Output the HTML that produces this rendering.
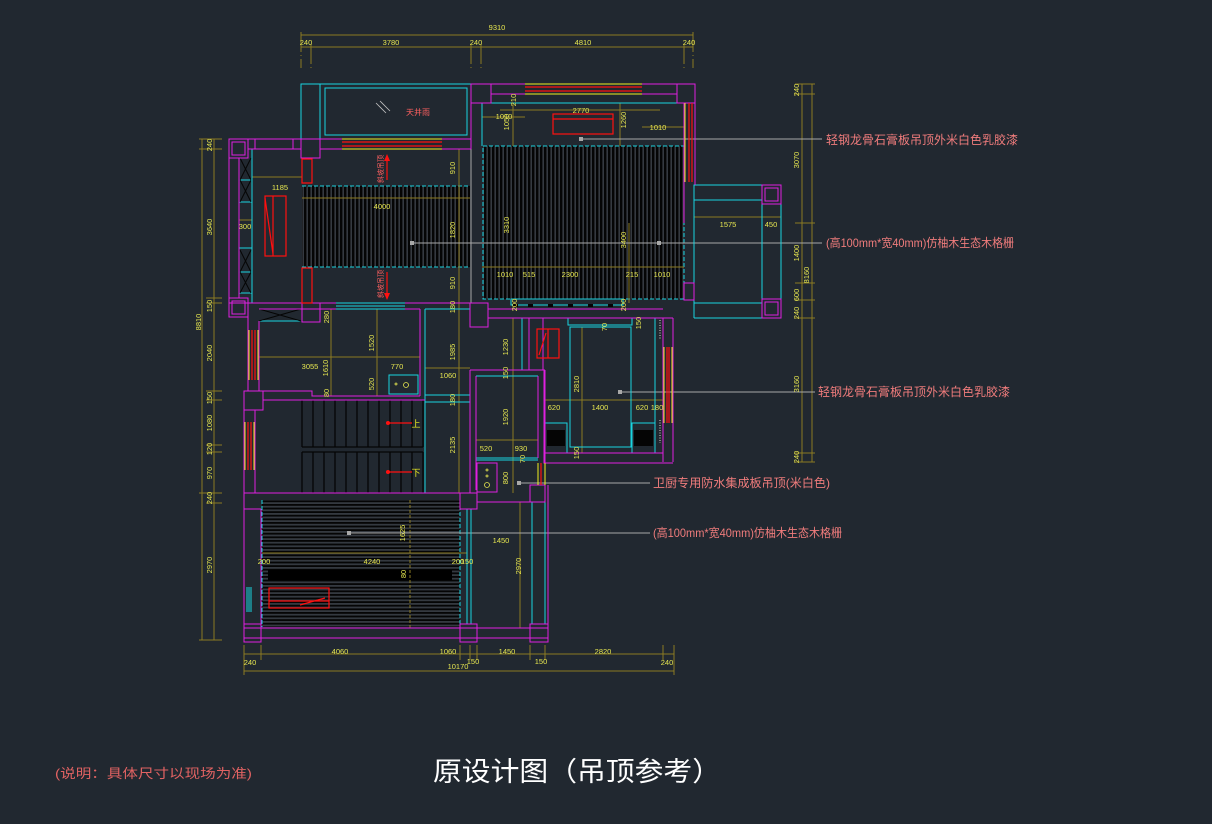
<!DOCTYPE html>
<html><head><meta charset="utf-8"><style>
html,body{margin:0;padding:0;background:#212830;}
svg{display:block;}
.d{font-family:"Liberation Sans",sans-serif;font-size:7.5px;fill:#e6e650;text-anchor:middle;}
.l{font-family:"Liberation Sans","Noto Sans CJK SC",sans-serif;font-size:12px;fill:#f07c7c;}
</style></head><body>
<svg width="1212" height="824" viewBox="0 0 1212 824" xmlns="http://www.w3.org/2000/svg">
<defs>
<pattern id="vh" width="4" height="4" patternUnits="userSpaceOnUse"><rect width="4" height="4" fill="#343940"/><rect width="2.4" height="4" fill="#050505"/></pattern>
<pattern id="hh" width="4" height="3.6" patternUnits="userSpaceOnUse"><rect width="4" height="3.6" fill="#343940"/><rect width="4" height="1.8" fill="#050505"/></pattern>
</defs>
<rect width="1212" height="824" fill="#212830"/>

<!-- hatched ceilings -->
<rect x="302" y="186" width="168" height="81" fill="url(#vh)"/>
<rect x="483" y="146" width="201" height="153" fill="url(#vh)"/>
<rect x="262" y="500" width="198" height="127" fill="url(#hh)"/>
<rect x="268" y="570" width="184" height="10" fill="#000"/>
<g stroke="#19d4e0" stroke-width="1" stroke-dasharray="4 2" fill="none">
<line x1="302" y1="186" x2="470" y2="186"/><line x1="302" y1="267" x2="470" y2="267"/>
<rect x="483" y="146" width="201" height="153"/>
<line x1="262" y1="500" x2="262" y2="627"/><line x1="460" y1="500" x2="460" y2="627"/>
</g>

<!-- stairs -->
<g stroke="#050505" stroke-width="1.3">
<path d="M302 400V447M313 400V447M324 400V447M335 400V447M346 400V447M357 400V447M368 400V447M379 400V447M390 400V447M401 400V447M412 400V447M423 400V447"/>
<path d="M302 452V493M313 452V493M324 452V493M335 452V493M346 452V493M357 452V493M368 452V493M379 452V493M390 452V493M401 452V493M412 452V493M423 452V493"/>
<path d="M302 447H423M302 452H423"/>
</g>

<!-- dimension lines (olive) -->
<g stroke="#8c7a22" stroke-width="1" fill="none">
<path d="M301 35H693M301 47H693"/>
<path d="M301 32V68M311 44V68M471 44V68M481 44V68M684 44V68M693 32V68" stroke-dasharray="20 3 1 3"/>
<path d="M802 84V462M812 84V462"/>
<path d="M795 84H815M795 94H815M795 223H815M795 283H815M795 300H815M795 318H815M795 453H815M795 462H815"/>
<path d="M202 139V640M214 139V640"/>
<path d="M199 139H222M199 149H222M206 298H222M206 303H222M206 391H222M206 400H222M206 445H222M206 452H222M199 493H222M206 503H222M199 640H222"/>
<path d="M244 654H674M244 671H674"/>
<path d="M244 645V675M261 645V660M460 645V660M470 645V660M477 645V660M530 645V660M545 645V660M663 645V660M674 645V675"/>
<path d="M252 177H302M302 198H470M459 149V303M239 220H252M694 217H781"/>
<path d="M482 117H525M642 127H684M513 103V146M620 103V146M482 267H684M629 223V303M500 110H660"/>
<path d="M259 357H420M331 309V396M377 309V396M459 303V493M425 368H470"/>
<path d="M513 318V493M476 440H538M582 327V453M544 400H663"/>
<path d="M262 553H467M520 502V628M470 533H532"/>
<path d="M410 500V630" stroke-dasharray="3 2"/>
</g>

<!-- leaders -->
<g stroke="#a8a8a8" stroke-width="1">
<path d="M581 139H822M412 243H822M620 392H815M519 483H650M349 533H650"/>
<path d="M471 149V303"/>
</g>
<g fill="#a8a8a8"><rect x="579" y="137" width="4" height="4"/><rect x="410" y="241" width="4" height="4"/><rect x="657" y="241" width="4" height="4"/><rect x="618" y="390" width="4" height="4"/><rect x="517" y="481" width="4" height="4"/><rect x="347" y="531" width="4" height="4"/></g>

<!-- cyan lines -->
<g stroke="#19d4e0" stroke-width="1" fill="none">
<rect x="301" y="84" width="170" height="55"/>
<rect x="325" y="88" width="142" height="47"/>
<path d="M320 84V139"/>
<path d="M252 149V303"/>
<path d="M482 103H678M482 103V146"/>
<rect x="694" y="185" width="68" height="118"/>
<path d="M694 200H762M762 204V299M781 204V299M694 318H762M694 303V318"/>
<path d="M336 303H405M336 306H405M336 309H405M259 321H301"/>
<path d="M425 309H470M425 309V493M425 395H470M425 402H470"/>
<rect x="511" y="299" width="112" height="6"/>
<path d="M476 376H538M476 458H538M476 460H538"/>
<rect x="522" y="318" width="7" height="52"/>
<rect x="570" y="327" width="61" height="120"/>
<rect x="568" y="318" width="64" height="7"/>
<rect x="545" y="423" width="22" height="30"/>
<rect x="632" y="423" width="23" height="30"/>
<path d="M655 318V423"/>
<path d="M467 509V624M471 509V624M532 502V624M545 502V624"/>
<path d="M247 587V612M249 587V612M251 587V612"/>
<path d="M239 180H252M239 202H252M239 248H252M239 272H252M239 293H252"/>
<rect x="389" y="375" width="29" height="19"/>
</g>

<!-- black X windows / sinks -->
<g stroke="#050505" stroke-width="1" fill="none">
<path d="M240 158L251 180M251 158L240 180M240 180L251 202M251 180L240 202M240 250L251 272M251 250L240 272M240 272L251 293M251 272L240 293"/>
<path d="M259 309L301 321M301 309L259 321"/>
</g>
<rect x="547" y="430" width="18" height="16" fill="#050505"/>
<rect x="634" y="430" width="19" height="16" fill="#050505"/>
<g fill="#050505"><rect x="513" y="304" width="5" height="3"/><rect x="528" y="304" width="5" height="3"/><rect x="548" y="304" width="5" height="3"/><rect x="568" y="304" width="5" height="3"/><rect x="588" y="304" width="5" height="3"/><rect x="608" y="304" width="5" height="3"/></g>

<!-- magenta walls -->
<g stroke="#e020e0" stroke-width="1" fill="none">
<path d="M229 139H301M229 139V316M239 158V298M248 149H301"/>
<rect x="255" y="139" width="38" height="10"/>
<rect x="229" y="139" width="19" height="19"/><rect x="232" y="142" width="13" height="13"/>
<rect x="229" y="298" width="19" height="19"/><rect x="232" y="301" width="13" height="13"/>
<rect x="301" y="139" width="19" height="19"/>
<path d="M320 139H471M320 149H342M442 149H471M471 84V149"/>
<path d="M471 84H695M491 94H525M642 94H677"/>
<rect x="471" y="84" width="20" height="19"/>
<rect x="677" y="84" width="18" height="19"/>
<path d="M684 103V223M695 103V185M471 103V146"/>
<rect x="684" y="283" width="10" height="17"/>
<rect x="762" y="185" width="19" height="19"/><rect x="765" y="188" width="13" height="13"/>
<rect x="762" y="299" width="19" height="19"/><rect x="765" y="302" width="13" height="13"/>
<path d="M229 303H336M405 303H470M259 309H336M405 309H420"/>
<rect x="302" y="303" width="18" height="19"/>
<rect x="470" y="303" width="18" height="24"/>
<path d="M488 309H663M513 318H673M663 318V462M673 318V462M488 318H513"/>
<path d="M248 316V391M259 321V391M420 309V396M263 391H312V396H420"/>
<rect x="244" y="391" width="19" height="19"/>
<path d="M263 400H425M244 410V640M255 410V493M470 370V493"/>
<path d="M470 370H545M476 376V490M538 376V458M545 370V463"/>
<rect x="477" y="463" width="20" height="29"/>
<path d="M544 370V463H673M544 453H663"/>
<path d="M244 493H477M244 509H261M261 509V624M477 502H530M548 485V640"/>
<path d="M244 628H548M244 638H548"/>
<rect x="244" y="624" width="17" height="18"/>
<rect x="460" y="624" width="17" height="18"/>
<rect x="460" y="493" width="17" height="16"/>
<rect x="530" y="624" width="18" height="18"/>
<rect x="530" y="485" width="15" height="17"/>
<path d="M529 318V370M543 318V370"/>
</g>

<!-- windows yellow/red -->
<g stroke="#f0f020" stroke-width="1" fill="none">
<path d="M342 139H442M342 149H442M525 84H642M525 94H642M685 103V182"/>
<path d="M249 330V380M258 330V380M245 422V470M254 422V470M664 347V423M672 347V423M538 463V485M545 463V485"/>
</g>
<g stroke="#ff1010" stroke-width="1.2" fill="none">
<path d="M342 142H442M342 146H442M525 87H642M525 91H642M689 103V182M692 103V182"/>
<path d="M252 330V380M255 330V380M248 422V470M251 422V470M667 347V423M669 347V423M541 463V485"/>
<path d="M302 159H312V183H302ZM302 268H312V303H302Z"/>
<rect x="265" y="196" width="21" height="60"/><path d="M273 196V256M265 198L273 254"/>
<rect x="553" y="114" width="60" height="20"/><path d="M553 119H613"/>
<rect x="537" y="329" width="22" height="29"/><path d="M548 329V358M539 355L546 333"/>
<rect x="269" y="588" width="60" height="20"/><path d="M269 601H329M300 605L325 598"/>
<path d="M387 157V180M387 272V297M386 423H412M386 472H412"/>
</g>
<g fill="#ff1010"><path d="M387 154L384 161H390Z"/><path d="M387 300L384 293H390Z"/><circle cx="388" cy="423" r="2"/><circle cx="388" cy="472" r="2"/></g>
<g stroke="#e6e650" fill="none" stroke-width="0.8"><circle cx="406" cy="385" r="2.5"/><circle cx="396" cy="384" r="1"/><circle cx="487" cy="485" r="2.5"/><circle cx="487" cy="476" r="1"/><circle cx="487" cy="470" r="1"/></g>
<path d="M376 103L386 113M380 101L390 111" stroke="#c0c0c0" stroke-width="0.8"/>
<g stroke="#a0a0a0" stroke-width="1.5" stroke-dasharray="1 1.5"><path d="M660 320V340M660 420V443"/></g>

<!-- small red texts -->
<text x="418" y="115" font-family="Liberation Sans,'Noto Sans CJK SC',sans-serif" font-size="8" fill="#ff6060" text-anchor="middle">天井雨</text>
<text transform="translate(383 169) rotate(-90)" font-family="'Noto Sans CJK SC',sans-serif" font-size="7" fill="#ff6060" text-anchor="middle">斜坡吊顶</text>
<text transform="translate(383 284) rotate(-90)" font-family="'Noto Sans CJK SC',sans-serif" font-size="7" fill="#ff6060" text-anchor="middle">斜坡吊顶</text>
<text x="416" y="427" font-family="'Noto Sans CJK SC',sans-serif" font-size="9" fill="#f0f020" text-anchor="middle">上</text>
<text x="416" y="476" font-family="'Noto Sans CJK SC',sans-serif" font-size="9" fill="#f0f020" text-anchor="middle">下</text>

<!-- dimension texts -->
<g class="d">
<text x="497" y="30">9310</text>
<text x="306" y="45">240</text><text x="391" y="45">3780</text><text x="476" y="45">240</text><text x="583" y="45">4810</text><text x="689" y="45">240</text>
<text x="280" y="190">1185</text><text x="245" y="229">300</text><text x="382" y="209">4000</text>
<text x="504" y="119">1010</text><text x="581" y="113">2770</text><text x="658" y="130">1010</text>
<text x="505" y="277">1010</text><text x="529" y="277">515</text><text x="570" y="277">2300</text><text x="632" y="277">215</text><text x="662" y="277">1010</text>
<text x="728" y="227">1575</text><text x="771" y="227">450</text>
<text x="310" y="369">3055</text><text x="397" y="369">770</text><text x="448" y="378">1060</text>
<text x="486" y="451">520</text><text x="521" y="451">930</text>
<text x="554" y="410">620</text><text x="600" y="410">1400</text><text x="642" y="410">620</text><text x="657" y="410">180</text>
<text x="264" y="564">200</text><text x="372" y="564">4240</text><text x="458" y="564">200</text><text x="467" y="564">150</text>
<text x="501" y="543">1450</text>
<text x="340" y="654">4060</text><text x="448" y="654">1060</text><text x="507" y="654">1450</text><text x="603" y="654">2820</text>
<text x="250" y="665">240</text><text x="473" y="664">150</text><text x="541" y="664">150</text><text x="667" y="665">240</text><text x="458" y="669">10170</text>
</g>
<g class="d">
<text transform="translate(455 168) rotate(-90)">910</text>
<text transform="translate(455 230) rotate(-90)">1820</text>
<text transform="translate(455 283) rotate(-90)">910</text>
<text transform="translate(516 100) rotate(-90)">210</text>
<text transform="translate(509 122) rotate(-90)">1050</text>
<text transform="translate(626 120) rotate(-90)">1260</text>
<text transform="translate(509 225) rotate(-90)">3310</text>
<text transform="translate(626 240) rotate(-90)">3400</text>
<text transform="translate(517 305) rotate(-90)">200</text>
<text transform="translate(626 305) rotate(-90)">200</text>
<text transform="translate(799 90) rotate(-90)">240</text>
<text transform="translate(799 160) rotate(-90)">3070</text>
<text transform="translate(799 253) rotate(-90)">1400</text>
<text transform="translate(799 295) rotate(-90)">600</text>
<text transform="translate(799 313) rotate(-90)">240</text>
<text transform="translate(799 384) rotate(-90)">3160</text>
<text transform="translate(799 457) rotate(-90)">240</text>
<text transform="translate(809 275) rotate(-90)">8160</text>
<text transform="translate(212 145) rotate(-90)">240</text>
<text transform="translate(212 227) rotate(-90)">3640</text>
<text transform="translate(212 306) rotate(-90)">150</text>
<text transform="translate(212 353) rotate(-90)">2040</text>
<text transform="translate(212 398) rotate(-90)">150</text>
<text transform="translate(212 423) rotate(-90)">1080</text>
<text transform="translate(212 449) rotate(-90)">120</text>
<text transform="translate(212 473) rotate(-90)">970</text>
<text transform="translate(212 498) rotate(-90)">240</text>
<text transform="translate(212 565) rotate(-90)">2970</text>
<text transform="translate(201 322) rotate(-90)">8810</text>
<text transform="translate(329 317) rotate(-90)">280</text>
<text transform="translate(374 343) rotate(-90)">1520</text>
<text transform="translate(328 368) rotate(-90)">1610</text>
<text transform="translate(374 384) rotate(-90)">520</text>
<text transform="translate(329 393) rotate(-90)">80</text>
<text transform="translate(455 307) rotate(-90)">180</text>
<text transform="translate(455 352) rotate(-90)">1985</text>
<text transform="translate(455 400) rotate(-90)">180</text>
<text transform="translate(455 445) rotate(-90)">2135</text>
<text transform="translate(508 347) rotate(-90)">1230</text>
<text transform="translate(508 373) rotate(-90)">150</text>
<text transform="translate(508 417) rotate(-90)">1920</text>
<text transform="translate(525 459) rotate(-90)">70</text>
<text transform="translate(508 478) rotate(-90)">800</text>
<text transform="translate(607 327) rotate(-90)">70</text>
<text transform="translate(641 323) rotate(-90)">150</text>
<text transform="translate(579 384) rotate(-90)">2810</text>
<text transform="translate(579 453) rotate(-90)">150</text>
<text transform="translate(405 533) rotate(-90)">1625</text>
<text transform="translate(406 574) rotate(-90)">80</text>
<text transform="translate(521 566) rotate(-90)">2970</text>
</g>

<!-- labels -->
<text class="l" x="826" y="144" textLength="192" lengthAdjust="spacingAndGlyphs">轻钢龙骨石膏板吊顶外米白色乳胶漆</text>
<text class="l" x="826" y="247" textLength="188" lengthAdjust="spacingAndGlyphs">(高100mm*宽40mm)仿柚木生态木格栅</text>
<text class="l" x="818" y="396" textLength="192" lengthAdjust="spacingAndGlyphs">轻钢龙骨石膏板吊顶外米白色乳胶漆</text>
<text class="l" x="653" y="487" textLength="177" lengthAdjust="spacingAndGlyphs">卫厨专用防水集成板吊顶(米白色)</text>
<text class="l" x="653" y="537" textLength="189" lengthAdjust="spacingAndGlyphs">(高100mm*宽40mm)仿柚木生态木格栅</text>

<text x="55" y="778" font-family="'Liberation Sans','Noto Sans CJK SC',sans-serif" font-size="13" fill="#e06262" textLength="197" lengthAdjust="spacingAndGlyphs">(说明：具体尺寸以现场为准)</text>
<text x="433" y="781" font-family="'Liberation Sans','Noto Sans CJK SC',sans-serif" font-size="27" fill="#ffffff" textLength="288" lengthAdjust="spacingAndGlyphs">原设计图（吊顶参考）</text>
</svg>
</body></html>
